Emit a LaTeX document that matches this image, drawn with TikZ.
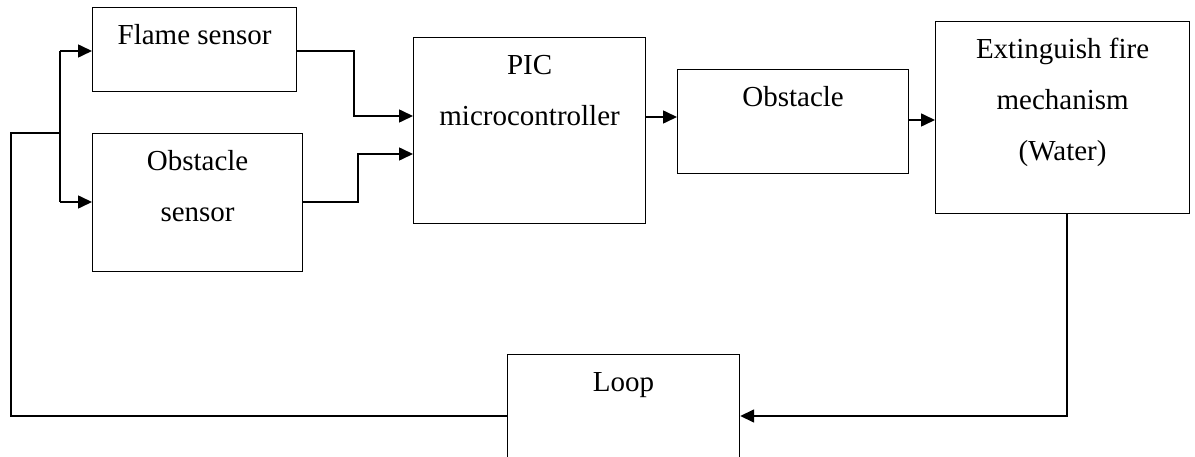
\documentclass[tikz,border=0pt]{standalone}
\usepackage{fontspec}
\setmainfont{Liberation Serif}
\usetikzlibrary{arrows.meta}
\begin{document}
\begin{tikzpicture}[x=1pt,y=-1pt,
  box/.style={draw, line width=1.2pt, inner sep=0pt, anchor=north west},
  lbl/.style={anchor=north, inner sep=0pt, align=center, font=\fontsize{29}{51}\selectfont},
  conn/.style={line width=1.6pt},
  arr/.style={conn, -{Triangle[length=14pt,width=13pt]}}]
\useasboundingbox (0,0) rectangle (1195,457);
\clip (0,0) rectangle (1195,457);
\fill[white] (0,0) rectangle (1195,457);
% boxes
\node[box, minimum width=204pt, minimum height=84pt]  (flame) at (92,7) {};
\node[box, minimum width=210pt, minimum height=138pt] (obss)  at (92,133) {};
\node[box, minimum width=232pt, minimum height=186pt] (pic)   at (413,37) {};
\node[box, minimum width=231pt, minimum height=104pt] (obst)  at (677,69) {};
\node[box, minimum width=254pt, minimum height=192pt] (ext)   at (935,21) {};
\node[box, minimum width=232pt, minimum height=150pt] (loop)  at (507,354) {};
% labels
\node[lbl] (flameT) at ([yshift=-1.3pt]flame.north) {\strut Flame sensor};
\node[lbl] (obssT)  at ([yshift=-1.3pt]obss.north)  {\strut Obstacle\\sensor};
\node[lbl] (picT)   at ([yshift=-1.3pt]pic.north)   {\strut PIC\\microcontroller};
\node[lbl] (obstT)  at ([yshift=-1.3pt]obst.north)  {\strut Obstacle};
\node[lbl] (extT)   at ([yshift=-1.3pt]ext.north)   {\strut Extinguish fire\\mechanism\\(Water)};
\node[lbl] (loopT)  at ([yshift=-1.3pt]loop.north)  {\strut Loop};
% connectors
\coordinate (tTop) at (60,51);
\coordinate (tBot) at (60,202);
\coordinate (tIn)  at (60,133);
\draw[conn] (tTop) -- (tBot);
\draw[arr] (tTop) -- (tTop -| flame.west);
\draw[arr] (tBot) -- (tBot -| obss.west);
\draw[conn] (loop.west |- 0,416) -- (11,416) -- (11,133) -- (tIn);
\draw[arr] (flame.east |- tTop) -- (354,51) -- (354,116) -- (pic.west |- 0,116);
\draw[arr] (obss.east |- tBot) -- (358,202) -- (358,154) -- (pic.west |- 0,154);
\draw[arr] (pic.east |- 0,117) -- (obst.west |- 0,117);
\draw[arr] (obst.east |- 0,120) -- (ext.west |- 0,120);
\draw[arr] (ext.south -| 1067,0) -- (1067,416) -- (loop.east |- 0,416);
\end{tikzpicture}
\end{document}
